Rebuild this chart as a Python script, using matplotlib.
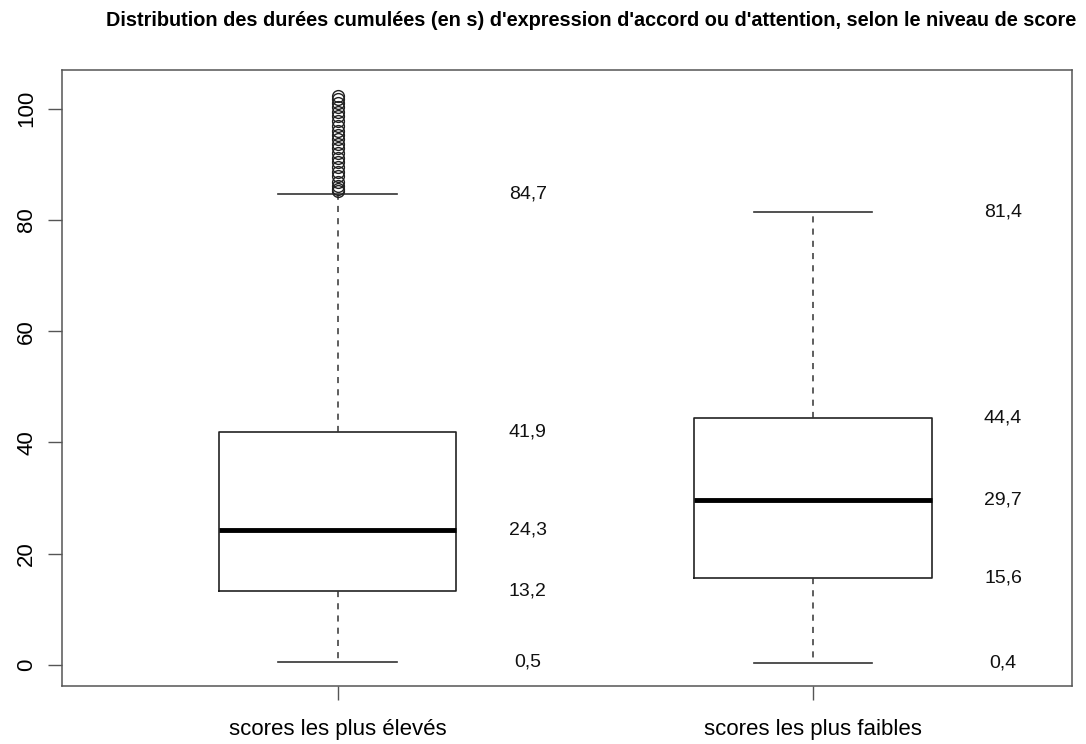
import numpy as np
import matplotlib.pyplot as plt

plt.rcParams['font.family'] = ['Liberation Sans', 'DejaVu Sans']

# Box statistics
groups = ['scores les plus élevés', 'scores les plus faibles']
whislo = [0.5, 0.4]
q1 = [13.2, 15.6]
med = [24.3, 29.7]
q3 = [41.9, 44.4]
whishi = [84.7, 81.4]
outliers_high = [85.2, 85.6, 86.1, 86.8, 87.9, 88.7, 89.6, 90.4, 91.2, 92.0,
                 92.9, 93.7, 94.5, 95.3, 96.1, 97.0, 97.8, 98.7, 99.5, 100.3,
                 101.0, 101.7, 102.3]
labels = [['0,5', '13,2', '24,3', '41,9', '84,7'],
          ['0,4', '15,6', '29,7', '44,4', '81,4']]
label_vals = [[0.5, 13.2, 24.3, 41.9, 84.7],
              [0.4, 15.6, 29.7, 44.4, 81.4]]

stats = []
for i in range(2):
    stats.append({'whislo': whislo[i], 'q1': q1[i], 'med': med[i], 'q3': q3[i],
                  'whishi': whishi[i],
                  'fliers': outliers_high if i == 0 else []})

fig = plt.figure(figsize=(10.86, 7.44), dpi=100)
ax = fig.add_axes([0.0571, 0.078, 0.930, 0.828])

ax.bxp(stats, positions=[1, 2], widths=0.5, showfliers=True,
       boxprops=dict(color='#222222', linewidth=1.2),
       medianprops=dict(color='black', linewidth=3.5),
       whiskerprops=dict(color='#333333', linewidth=1.1, linestyle=(0, (4, 4))),
       capprops=dict(color='#333333', linewidth=1.2),
       capwidths=0.25,
       flierprops=dict(marker='o', markerfacecolor='none', markeredgecolor='#222222',
                       markersize=8.5, markeredgewidth=1.0))

for i in range(2):
    for txt, v in zip(labels[i], label_vals[i]):
        ax.text(i + 1.40, v, txt, ha='center', va='center', fontsize=14, color='#111111')

ax.set_xlim(0.42, 2.545)
ax.set_ylim(-3.8, 107.0)
ax.set_xticks([1, 2])
ax.set_xticklabels(groups, fontsize=16)
ax.set_yticks([0, 20, 40, 60, 80, 100])
ax.set_yticklabels(['0', '20', '40', '60', '80', '100'], fontsize=16, rotation=90, va='center')
ax.tick_params(axis='both', length=10, width=1.0, color='#555555', pad=8)
ax.tick_params(axis='x', pad=14)
for s in ax.spines.values():
    s.set_color('#555555')
    s.set_linewidth(1.1)

fig.text(0.544, 0.972, "Distribution des durées cumulées (en s) d'expression d'accord ou d'attention, selon le niveau de score",
         ha='center', va='center', fontsize=14.3, fontweight='bold')

fig.savefig('out.png', dpi=100, facecolor='white')
